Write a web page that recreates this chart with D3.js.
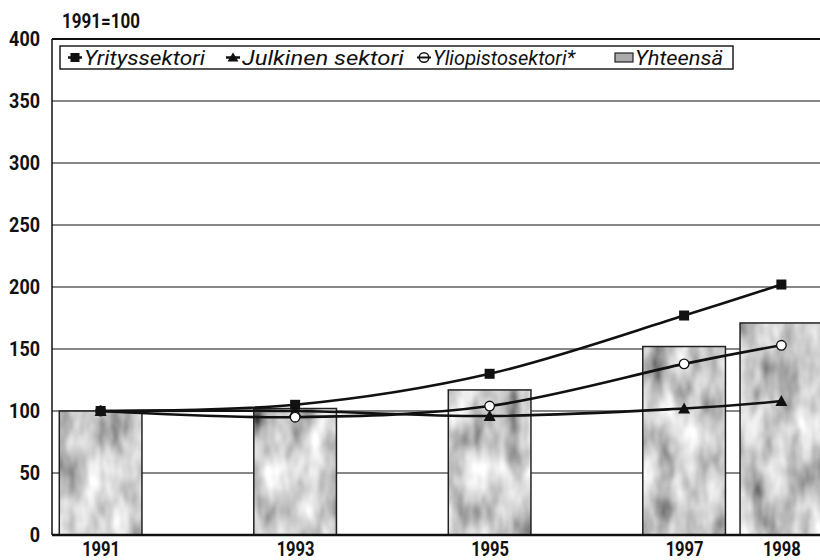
<!DOCTYPE html>
<html>
<head>
<meta charset="utf-8">
<script src="https://cdn.jsdelivr.net/npm/d3@7"></script>
<style>
  body { margin: 0; background: #fff; }
  svg { display: block; }
  text { font-family: Roboto, "Liberation Sans", sans-serif; fill: #111; }
</style>
</head>
<body>
<svg id="chart" width="820" height="560"></svg>
<script>
const years = [1991, 1993, 1995, 1997, 1998];
const yhteensa = [100, 102, 117, 152, 171];
const yritys = [100, 105, 130, 177, 202];
const julkinen = [100, 100, 96, 102, 108];
const yliopisto = [100, 95, 104, 138, 153];
const yTicks = [0, 50, 100, 150, 200, 250, 300, 350, 400];
const seriesNames = ["Yrityssektori", "Julkinen sektori", "Yliopistosektori*", "Yhteensä"];
const baseLabel = "1991=100";

const svg = d3.select("#chart");
const mLeft = 52, mBottom = 535, mTop = 39;
const x = d3.scaleLinear().domain([1990.5, 1998.5]).range([mLeft, 830]);
const y = d3.scaleLinear().domain([0, 400]).range([mBottom, mTop]);

// defs: mottled texture
const defs = svg.append("defs");
const f = defs.append("filter").attr("id", "mottle").attr("x", 0).attr("y", 0).attr("width", "100%").attr("height", "100%");
f.append("feTurbulence").attr("type", "fractalNoise").attr("baseFrequency", "0.04 0.02").attr("numOctaves", 3).attr("seed", 7).attr("result", "noise");
f.append("feColorMatrix").attr("in", "noise").attr("type", "saturate").attr("values", 0).attr("result", "gray");
const ct = f.append("feComponentTransfer").attr("in", "gray").attr("result", "adj");
["feFuncR", "feFuncG", "feFuncB"].forEach(n => ct.append(n).attr("type", "linear").attr("slope", 1.8).attr("intercept", -0.28));
ct.append("feFuncA").attr("type", "linear").attr("slope", 0).attr("intercept", 1);
f.append("feComposite").attr("in", "adj").attr("in2", "SourceGraphic").attr("operator", "in");

// gridlines
svg.append("g").selectAll("line").data(yTicks.filter(d => d > 0)).join("line")
  .attr("x1", mLeft).attr("x2", 820)
  .attr("y1", d => y(d)).attr("y2", d => y(d))
  .attr("stroke", "#111").attr("stroke-width", d => d === 400 ? 2 : 1.2);

// bars
const barW = x(1991.85) - x(1991);
const bars = svg.append("g");
bars.selectAll("rect.fill").data(years).join("rect").attr("class", "fill")
  .attr("x", d => x(d) - barW / 2).attr("width", barW)
  .attr("y", (d, i) => y(yhteensa[i])).attr("height", (d, i) => y(0) - y(yhteensa[i]))
  .attr("fill", "#aaa").attr("filter", "url(#mottle)");
bars.selectAll("rect.outline").data(years).join("rect").attr("class", "outline")
  .attr("x", d => x(d) - barW / 2).attr("width", barW)
  .attr("y", (d, i) => y(yhteensa[i])).attr("height", (d, i) => y(0) - y(yhteensa[i]))
  .attr("fill", "none").attr("stroke", "#222").attr("stroke-width", 1.5);

// axes lines
svg.append("line").attr("x1", mLeft).attr("x2", mLeft).attr("y1", mTop).attr("y2", mBottom).attr("stroke", "#111").attr("stroke-width", 1.5);
svg.append("line").attr("x1", mLeft).attr("x2", 820).attr("y1", mBottom).attr("y2", mBottom).attr("stroke", "#111").attr("stroke-width", 2.5);

// y axis labels
const yAxis = d3.axisLeft(y).tickValues(yTicks).tickSize(0).tickPadding(12);
const gy = svg.append("g").attr("transform", `translate(${mLeft},0)`).call(yAxis);
gy.select(".domain").remove();
gy.selectAll("text").style("font-size", "20px").style("font-weight", "bold")
  .style("font-family", "Roboto, sans-serif").attr("fill", "#111")
  .attr("textLength", d => String(d).length * 10.3).attr("lengthAdjust", "spacingAndGlyphs");

// x axis labels
const xAxis = d3.axisBottom(x).tickValues(years).tickFormat(d3.format("d")).tickSize(0).tickPadding(6);
const gx = svg.append("g").attr("transform", `translate(0,${mBottom})`).call(xAxis);
gx.select(".domain").remove();
gx.selectAll("text").style("font-size", "21px").style("font-weight", "bold")
  .style("font-family", "Roboto, sans-serif").attr("fill", "#111")
  .attr("textLength", 38).attr("lengthAdjust", "spacingAndGlyphs");

// lines
const line = d3.line().x(d => x(d[0])).y(d => y(d[1])).curve(d3.curveCatmullRom.alpha(0));
const series = [
  { vals: julkinen, marker: "triangle" },
  { vals: yliopisto, marker: "circle" },
  { vals: yritys, marker: "square" }
];
series.forEach(s => {
  const pts = years.map((yr, i) => [yr, s.vals[i]]);
  svg.append("path").datum(pts).attr("d", line).attr("fill", "none").attr("stroke", "#111").attr("stroke-width", 2.6);
});
function drawMarker(g, type, cx, cy) {
  if (type === "square") {
    g.append("rect").attr("x", cx - 5).attr("y", cy - 5).attr("width", 10).attr("height", 10).attr("fill", "#111");
  } else if (type === "triangle") {
    g.append("path").attr("d", `M${cx},${cy - 6}L${cx + 6},${cy + 5}L${cx - 6},${cy + 5}Z`).attr("fill", "#111");
  } else {
    g.append("circle").attr("cx", cx).attr("cy", cy).attr("r", 4.8).attr("fill", "#fff").attr("stroke", "#111").attr("stroke-width", 1.3);
  }
}
const mg = svg.append("g");
series.forEach(s => {
  years.forEach((yr, i) => drawMarker(mg, s.marker, x(yr), y(s.vals[i])));
});

// base label
svg.append("text").attr("x", 62).attr("y", 28).text(baseLabel)
  .style("font-size", "20px").style("font-weight", "bold")
  .attr("textLength", 78).attr("lengthAdjust", "spacingAndGlyphs");

// legend
const lg = svg.append("g");
lg.append("rect").attr("x", 60).attr("y", 46).attr("width", 673).attr("height", 23)
  .attr("fill", "#fff").attr("stroke", "#111").attr("stroke-width", 1.4);
const legendItems = [
  { name: seriesNames[0], type: "square", mx: 75, tx: 84, tw: 121 },
  { name: seriesNames[1], type: "triangle", mx: 233, tx: 242, tw: 162 },
  { name: seriesNames[2], type: "circle", mx: 424, tx: 433, tw: 142 },
  { name: seriesNames[3], type: "box", mx: 624, tx: 635, tw: 88 }
];
legendItems.forEach(it => {
  const cy = 57.5;
  if (it.type === "square") {
    lg.append("line").attr("x1", it.mx - 7).attr("x2", it.mx + 7).attr("y1", cy).attr("y2", cy).attr("stroke", "#111").attr("stroke-width", 2.5);
    lg.append("rect").attr("x", it.mx - 4.5).attr("y", cy - 4.5).attr("width", 9).attr("height", 9).attr("fill", "#111");
  } else if (it.type === "triangle") {
    lg.append("line").attr("x1", it.mx - 7).attr("x2", it.mx + 7).attr("y1", cy).attr("y2", cy).attr("stroke", "#111").attr("stroke-width", 2.5);
    lg.append("path").attr("d", `M${it.mx},${cy - 5}L${it.mx + 5.5},${cy + 4}L${it.mx - 5.5},${cy + 4}Z`).attr("fill", "#111");
  } else if (it.type === "circle") {
    lg.append("line").attr("x1", it.mx - 7).attr("x2", it.mx + 7).attr("y1", cy).attr("y2", cy).attr("stroke", "#111").attr("stroke-width", 2);
    lg.append("circle").attr("cx", it.mx).attr("cy", cy).attr("r", 4.8).attr("fill", "none").attr("stroke", "#111").attr("stroke-width", 1.4);
  } else {
    lg.append("rect").attr("x", it.mx - 9).attr("y", cy - 4.5).attr("width", 18).attr("height", 9).attr("fill", "#aaa").attr("stroke", "#222").attr("stroke-width", 1.2);
  }
  lg.append("text").attr("x", it.tx).attr("y", cy + 7).text(it.name)
    .style("font-size", "19.5px").style("font-style", "italic")
    .attr("textLength", it.tw).attr("lengthAdjust", "spacingAndGlyphs");
});
</script>
</body>
</html>
